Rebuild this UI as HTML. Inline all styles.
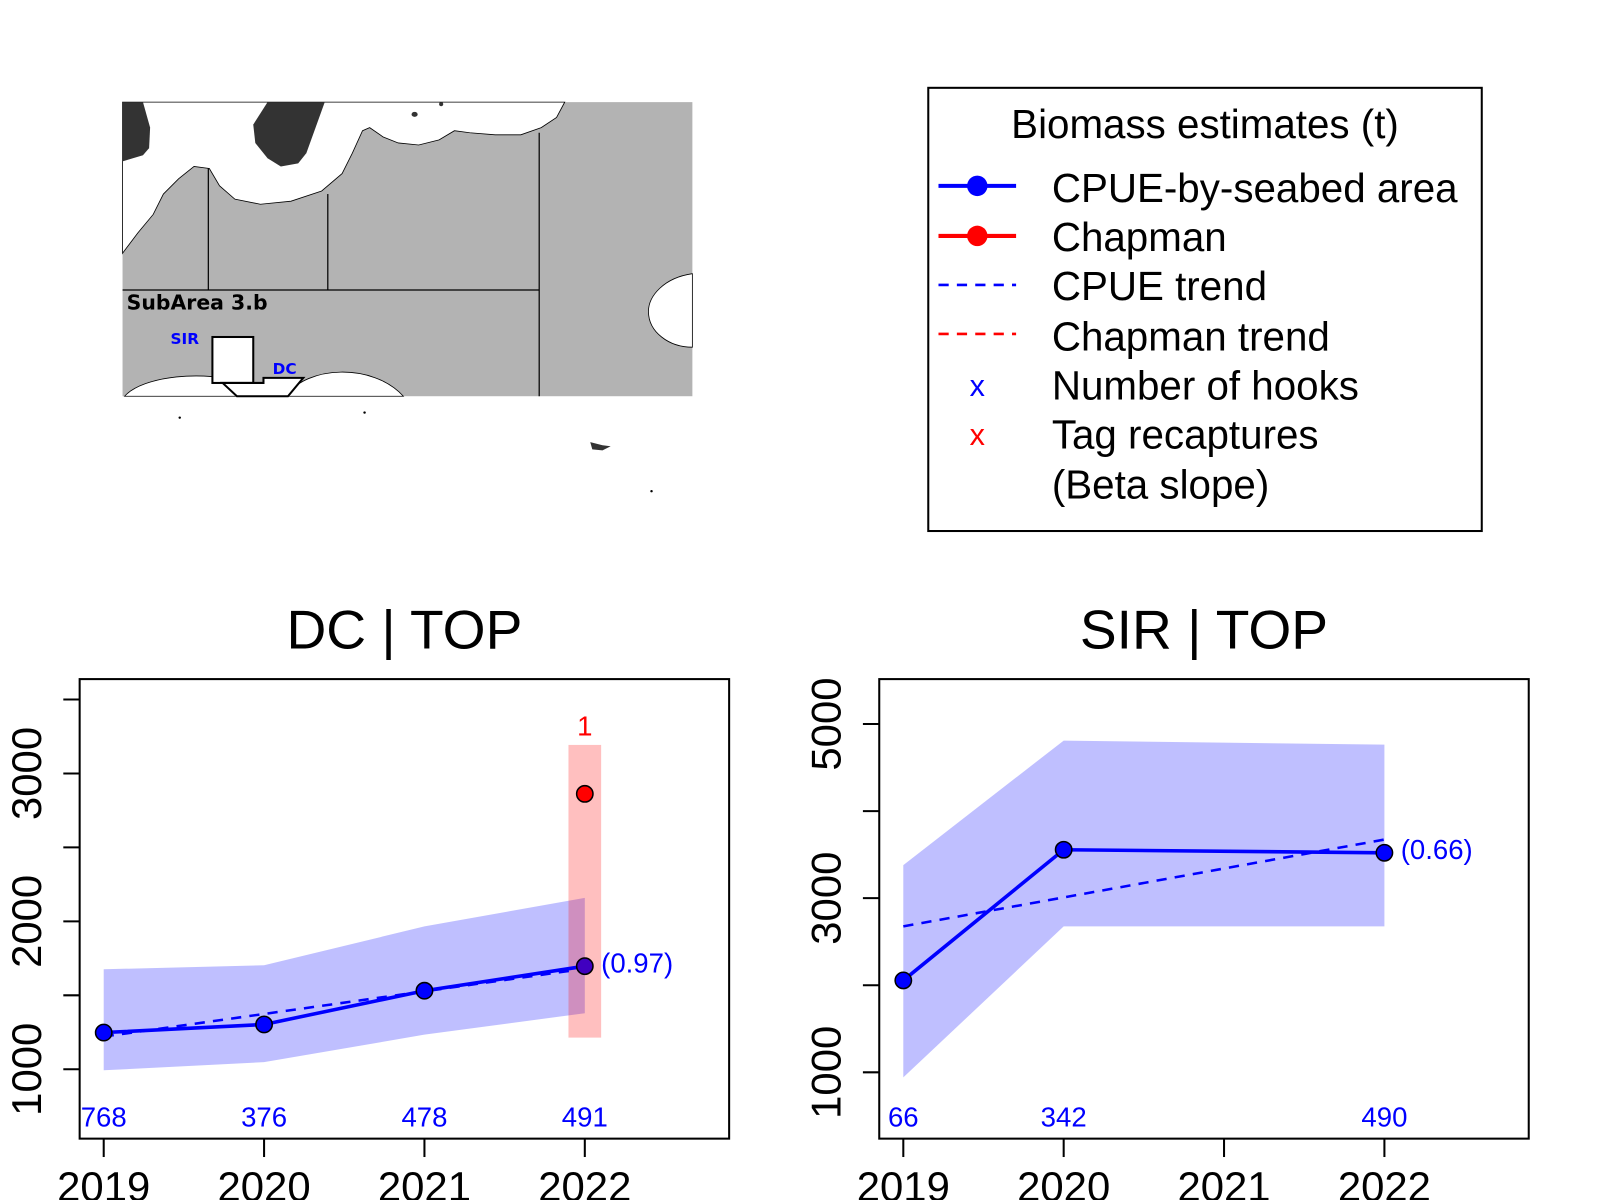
<!DOCTYPE html>
<html><head><meta charset="utf-8"><style>
html,body{margin:0;padding:0;background:#fff;}
svg{display:block;font-family:"Liberation Sans",Arial,sans-serif;}
</style></head><body>
<svg id="chart" width="1600" height="1200" viewBox="0 0 1600 1200">
<g transform="scale(1.0212)">
<g>
  <rect x="120" y="100" width="558" height="288" fill="#b3b3b3"/>
  <path d="M120,248 L135,228 L150,210 L160,190 L175,175 L190,163 L205,165 L215,182 L230,195 L255,200 L285,197 L315,187 L335,170 L345,150 L355,128 L362,125 L375,134 L390,140 L410,142 L430,137 L445,128 L460,130 L485,132 L510,132 L530,125 L545,115 L553,100 L120,100 Z" fill="#fff" stroke="#000" stroke-width="0.8"/>
  <path d="M120,100 L140,100 L147,125 L146,145 L140,152 L120,158 Z" fill="#333"/>
  <path d="M262,100 L318,100 L300,150 L292,160 L275,163 L262,155 L250,140 L248,122 Z" fill="#333"/>
  <ellipse cx="406" cy="112" rx="3" ry="2.5" fill="#333"/><ellipse cx="432" cy="102" rx="2" ry="2" fill="#333"/>
  <path d="M678,268 C650,272 635,290 635,305 C635,325 655,340 678,340 Z" fill="#fff" stroke="#000" stroke-width="0.8"/>
  <path d="M122,388 C140,368 200,362 240,375 L258,388 Z" fill="#fff" stroke="#000" stroke-width="0.8"/>
  <path d="M280,388 C300,358 365,355 395,388 Z" fill="#fff" stroke="#000" stroke-width="0.8"/>
  <g stroke="#000" stroke-width="1.2" fill="none">
    <line x1="204" y1="165" x2="204" y2="284"/><line x1="321" y1="190" x2="321" y2="284"/>
    <line x1="528" y1="130" x2="528" y2="388"/><line x1="120" y1="284" x2="528" y2="284"/>
  </g>
  <rect x="208" y="330" width="40" height="45" fill="#fff" stroke="#000" stroke-width="2"/>
  <path d="M218,375 L258,375 L258,370 L297,370 L282,388 L232,388 Z" fill="#fff" stroke="#000" stroke-width="2"/>
  <text x="124" y="303" font-size="20" font-weight="bold" font-family="'DejaVu Sans',sans-serif">SubArea 3.b</text>
  <text x="167" y="337" font-size="15" font-weight="bold" fill="#00f" font-family="'DejaVu Sans',sans-serif">SIR</text>
  <text x="267" y="366" font-size="15" font-weight="bold" fill="#00f" font-family="'DejaVu Sans',sans-serif">DC</text>
  <circle cx="176" cy="409" r="1.2" fill="#000"/><circle cx="357" cy="404" r="1.2" fill="#000"/>
  <path d="M578,433 L590,436 L598,437 L590,441 L580,440 Z" fill="#333"/><circle cx="638" cy="481" r="1.2" fill="#000"/>
</g>
<g>
  <rect x="909" y="86" width="542" height="434" fill="#fff" stroke="#000" stroke-width="2"/>
  <text x="1180" y="135" font-size="39.5" text-anchor="middle">Biomass estimates (t)</text>
  <g><line x1="919" y1="182" x2="995" y2="182" stroke="#00f" stroke-width="4"/><circle cx="957" cy="182" r="10" fill="#00f"/><text x="1030" y="198" font-size="39.5">CPUE-by-seabed area</text></g>
  <g><line x1="919" y1="231" x2="995" y2="231" stroke="#f00" stroke-width="4"/><circle cx="957" cy="231" r="10" fill="#f00"/><text x="1030" y="246" font-size="39.5">Chapman</text></g>
  <g><line x1="919" y1="279" x2="995" y2="279" stroke="#00f" stroke-width="2.5" stroke-dasharray="10,8"/><text x="1030" y="294" font-size="39.5">CPUE trend</text></g>
  <g><line x1="919" y1="327" x2="995" y2="327" stroke="#f00" stroke-width="2.5" stroke-dasharray="10,8"/><text x="1030" y="343" font-size="39.5">Chapman trend</text></g>
  <g><text x="957" y="388" font-size="30" fill="#00f" text-anchor="middle">x</text><text x="1030" y="391" font-size="39.5">Number of hooks</text></g>
  <g><text x="957" y="436" font-size="30" fill="#f00" text-anchor="middle">x</text><text x="1030" y="439" font-size="39.5">Tag recaptures</text></g>
  <text x="1030" y="488" font-size="39.5">(Beta slope)</text>
</g>
<g id="p1"></g>
<g id="p2"></g>
</g>
</svg>
<script>
const years = [2019, 2020, 2021, 2022];
const dcCpue = [1248, 1303, 1531, 1697];
const dcLow = [993, 1048, 1234, 1379];
const dcHigh = [1676, 1703, 1966, 2159];
const dcTrend = [1221, 1680];
const dcChapman = [2862];
const dcChapLow = [1214];
const dcChapHigh = [3193];
const dcRecaptures = ["1"];
const dcHooks = ["768", "376", "478", "491"];
const dcSlope = "(0.97)";
const dcYTicks = [1000, 1500, 2000, 2500, 3000, 3500];
const dcYLabels = [1000, 2000, 3000];
const sirCpue = [2055, 3556, null, 3521];
const sirLow = [941, 2676, null, 2676];
const sirHigh = [3380, 4810, null, 4763];
const sirTrend = [2676, 3673];
const sirHooks = ["66", "342", "", "490"];
const sirSlope = "(0.66)";
const sirYTicks = [1000, 2000, 3000, 4000, 5000];
const sirYLabels = [1000, 3000, 5000];

const NS = "http://www.w3.org/2000/svg";
function mk(parent, tag, attrs, text) {
  const e = document.createElementNS(NS, tag);
  for (const k in attrs) e.setAttribute(k, attrs[k]);
  if (text !== undefined) e.textContent = text;
  parent.appendChild(e);
  return e;
}
function panel(g, cfg) {
  const L = cfg.left, R = cfg.left + 636, T = 665, B = 1115;
  const xs = v => L + (v - 2018.85) / (2022.9 - 2018.85) * (R - L);
  const ys = v => B - (v - cfg.ymin) / (cfg.ymax - cfg.ymin) * (B - T);
  let t = mk(g, "text", {x: (L + R) / 2, y: 635, "font-size": 54, "text-anchor": "middle"}, cfg.title);
  
  
  const idx = cfg.cpue.map((v, i) => v === null ? -1 : i).filter(i => i >= 0);
  let pts = idx.map(i => xs(years[i]) + "," + ys(cfg.high[i])).concat(idx.slice().reverse().map(i => xs(years[i]) + "," + ys(cfg.low[i])));
  let poly = mk(g, "polygon", {points: pts.join(" "), fill: "rgba(0,0,255,0.25)"});
  
  
  if (cfg.chap) {
    const x = xs(years[3]);
    let r = mk(g, "rect", {x: x - 16, y: ys(cfg.chapHigh[0]), width: 32, height: ys(cfg.chapLow[0]) - ys(cfg.chapHigh[0]), fill: "rgba(255,0,0,0.25)"});
    
    
  }
  let tr = mk(g, "line", {x1: xs(years[0]), y1: ys(cfg.trend[0]), x2: xs(years[3]), y2: ys(cfg.trend[1]), stroke: "#00f", "stroke-width": 2.5, "stroke-dasharray": "10,8"});
  
  
  let ln = mk(g, "polyline", {points: idx.map(i => xs(years[i]) + "," + ys(cfg.cpue[i])).join(" "), fill: "none", stroke: "#00f", "stroke-width": 3.5});
  
  
  idx.forEach(i => {
    let c = mk(g, "circle", {cx: xs(years[i]), cy: ys(cfg.cpue[i]), r: 8, fill: (cfg.chap && i === 3) ? "#4000c0" : "#00f", stroke: "#000", "stroke-width": 1.5});
    
    
  });
  if (cfg.chap) {
    let c = mk(g, "circle", {cx: xs(years[3]), cy: ys(cfg.chap[0]), r: 8, fill: "#f00", stroke: "#000", "stroke-width": 1.5});
    
    
    let rt = mk(g, "text", {x: xs(years[3]), y: ys(cfg.chapHigh[0]) - 9, "font-size": 27, fill: "#f00", "text-anchor": "middle"}, cfg.recap[0]);
    
    
  }
  let sl = mk(g, "text", {x: xs(years[3]) + 16, y: ys(cfg.cpue[3]) + 6, "font-size": 27, fill: "#00f"}, cfg.slope);
  
  
  cfg.hooks.forEach((h, i) => {
    if (!h) return;
    let ht = mk(g, "text", {x: xs(years[i]), y: 1103, "font-size": 27, fill: "#00f", "text-anchor": "middle"}, h);
    
    
  });
  let box = mk(g, "rect", {x: L, y: T, width: R - L, height: B - T, fill: "none", stroke: "#000", "stroke-width": 2});
  
  
  years.forEach(y => {
    mk(g, "line", {x1: xs(y), y1: B, x2: xs(y), y2: B + 18, stroke: "#000", "stroke-width": 2});
    let xt = mk(g, "text", {x: xs(y), y: 1176, "font-size": 41, "text-anchor": "middle"}, String(y));
    
    
  });
  cfg.yticks.forEach(v => mk(g, "line", {x1: L - 16, y1: ys(v), x2: L, y2: ys(v), stroke: "#000", "stroke-width": 2}));
  cfg.ylabels.forEach(v => {
    let yt = mk(g, "text", {x: L - 38, y: ys(v), "font-size": 41, "text-anchor": "middle", transform: "rotate(-90 " + (L - 38) + " " + ys(v) + ")"}, String(v));
    
    
  });
}
panel(document.getElementById("p1"), {left: 78, title: "DC | TOP", ymin: 531, ymax: 3638, cpue: dcCpue, low: dcLow, high: dcHigh, trend: dcTrend, chap: dcChapman, chapLow: dcChapLow, chapHigh: dcChapHigh, recap: dcRecaptures, hooks: dcHooks, slope: dcSlope, yticks: dcYTicks, ylabels: dcYLabels});
panel(document.getElementById("p2"), {left: 861, title: "SIR | TOP", ymin: 238, ymax: 5516, cpue: sirCpue, low: sirLow, high: sirHigh, trend: sirTrend, chap: null, hooks: sirHooks, slope: sirSlope, yticks: sirYTicks, ylabels: sirYLabels});
</script>
</body></html>
